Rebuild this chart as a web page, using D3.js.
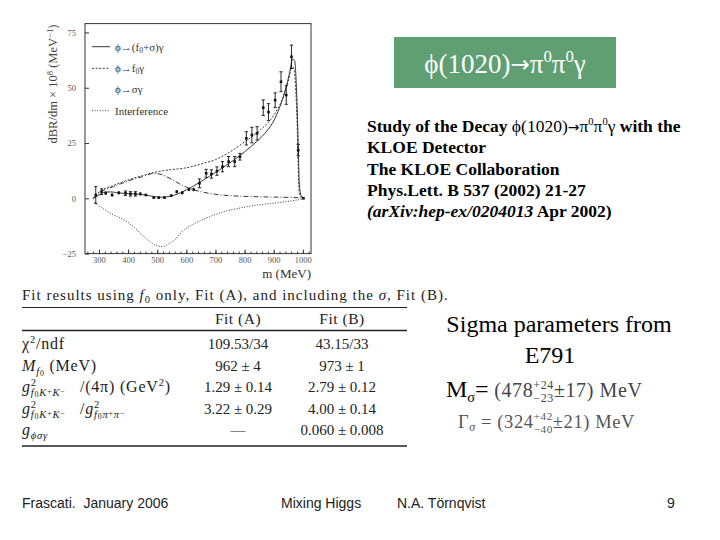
<!DOCTYPE html>
<html>
<head>
<meta charset="utf-8">
<script src="https://cdn.jsdelivr.net/npm/d3@7"></script>
<style>
body { margin: 0; background: #fff; }
svg text { white-space: pre; }
</style>
</head>
<body>
<script>
// data points (m in MeV, dBR/dm x 1e8)
var massPts = [289,309,323,345,368,391,408,425,442,461,488,505,525,548,567,586,609,625,645,668,686,705,724,745,766,784,806,825,843,864,882,905,925,943,961,984,1002];
var brPts = [1.5,3,2.3,1.5,2.5,2.3,2,2,2,1.5,0.3,0.3,0.3,1.2,3,2.5,4,4,6.8,11.3,11,12.3,14.3,16.6,16.6,18.8,27.1,28.6,29.4,41,39,44.4,52.7,46.7,64,21.8,0];
var errPts = [3.8,1.3,0.8,0.8,0.8,1,1,1,0.8,0.5,0.5,0.5,0.5,0.5,0.8,0.8,0.8,0.8,2,1.8,1.9,1.9,2.3,2.3,2.3,1.5,3,3.5,3,3.5,3.8,3.3,4.5,4.2,5.3,2.6,0.3];

// fit curves
var totalM = [280,300,320,340,360,380,400,420,440,460,480,500,520,540,560,580,600,620,640,660,680,700,720,740,760,780,800,820,840,860,880,900,920,940,955,965,972,978,983,988,995,1005];
var totalV = [0,1.5,2.8,2.9,2.6,2.3,2.1,2.0,1.8,1.5,1.0,0.6,0.5,0.8,1.5,2.5,3.8,5.2,6.8,8.4,10,11.7,13.4,15.2,17,19,21,23.2,25.5,28,31,35,41,49,57,63,62,50,30,6,1,0];
var f0M = [280,290,300,350,400,450,500,550,600,650,700,750,800,850,900,930,950,963,970,976,980,984,988,1000];
var f0V = [0,1.5,2.8,5.8,8.3,10.3,12,13,13.8,15.5,17.5,21,25.5,30.5,37.5,45,53,60,58,48,35,15,2,0];
var sigM = [280,300,350,400,450,490,520,550,580,610,650,700,750,850,950,1000];
var sigV = [0,2.3,5.3,7.8,9.8,11.3,10.5,8.5,6.3,4.5,3,1.8,1.2,0.7,0.4,0.2];
var intM = [285,300,320,350,390,420,450,480,500,520,540,560,590,620,650,680,730,780,845,900,960,1000];
var intV = [-2,-3.5,-5.2,-7.5,-10,-13,-16.8,-20,-21.5,-21.8,-20.5,-18.8,-14.5,-12,-10,-8.3,-6,-4.5,-3,-2.2,-1.2,-0.3];

var xTicks = [300,400,500,600,700,800,900,1000];
var yTicks = [-25,0,25,50,75];

// table
var fitA = ["109.53/34", "962 ± 4", "1.29 ± 0.14", "3.22 ± 0.29", "—"];
var fitB = ["43.15/33", "973 ± 1", "2.79 ± 0.12", "4.00 ± 0.14", "0.060 ± 0.008"];

var W = 720, H = 540;
var svg = d3.select("body").append("svg").attr("width", W).attr("height", H);

// draws a run of text pieces one after another, returns end x
function rich(g, x, y, parts, base) {
    var cx = x;
    parts.forEach(function (p) {
        if (p.stack) {
            var w = 0;
            p.stack.forEach(function (sp) {
                var ex = rich(g, cx, y, sp, base);
                w = Math.max(w, ex - cx);
            });
            cx += w;
            return;
        }
        var t = g.append("text")
            .attr("x", cx).attr("y", y + (p.dy || 0))
            .attr("font-family", p.f || base.family)
            .attr("font-size", base.size * (p.s || 1))
            .attr("font-style", p.it ? "italic" : "normal")
            .attr("font-weight", p.w || base.weight || "normal")
            .attr("letter-spacing", base.ls || 0)
            .attr("fill", base.fill)
            .text(p.t);
        cx += t.node().getComputedTextLength();
    });
    return cx;
}

// ---------- plot ----------
var xScale = d3.scaleLinear().domain([252, 1028]).range([85, 311]);
var yScale = d3.scaleLinear().domain([-25, 79]).range([253.6, 23.6]);

var plot = svg.append("g");
plot.append("defs").append("clipPath").attr("id", "clip")
    .append("rect").attr("x", 85).attr("y", 23.6).attr("width", 226).attr("height", 230);

var xAxis = d3.axisBottom(xScale).tickValues(xTicks).tickSizeInner(-4).tickSizeOuter(0).tickPadding(3).tickFormat(d3.format("d"));
var xMinor = d3.axisBottom(xScale).tickValues(d3.range(260, 1021, 20)).tickSizeInner(-2).tickSizeOuter(0).tickFormat("");
var yAxis = d3.axisLeft(yScale).tickValues(yTicks).tickSizeInner(-4).tickSizeOuter(0).tickPadding(9);

plot.append("g").attr("transform", "translate(0,253.6)").call(xMinor);
plot.append("g").attr("transform", "translate(0,253.6)").call(xAxis);
plot.append("g").attr("transform", "translate(85,0)").call(yAxis);
plot.selectAll(".domain").remove();
plot.selectAll(".tick line").attr("stroke", "#333");
plot.selectAll(".tick text").attr("font-family", "Liberation Serif").attr("font-size", 8.5).attr("fill", "#555");

plot.append("rect").attr("x", 85).attr("y", 23.6).attr("width", 226).attr("height", 230)
    .attr("fill", "none").attr("stroke", "#333").attr("stroke-width", 1);

var line = d3.line().x(function (d) { return xScale(d[0]); }).y(function (d) { return yScale(d[1]); })
    .curve(d3.curveMonotoneX);

var curves = [
    { m: totalM, v: totalV, dash: null },
    { m: f0M, v: f0V, dash: "2,1.6" },
    { m: sigM, v: sigV, dash: "5,2,1,2" },
    { m: intM, v: intV, dash: "1,1.6" }
];
var cg = plot.append("g").attr("clip-path", "url(#clip)");
curves.forEach(function (c) {
    cg.append("path")
        .datum(c.m.map(function (m, i) { return [m, c.v[i]]; }))
        .attr("d", line)
        .attr("fill", "none")
        .attr("stroke", "#222")
        .attr("stroke-width", 0.9)
        .attr("stroke-dasharray", c.dash);
});

var pts = massPts.map(function (m, i) { return { m: m, v: brPts[i], e: errPts[i] }; });
var pg = cg.selectAll(".pt").data(pts).enter().append("g").attr("class", "pt");
pg.append("line")
    .attr("x1", function (d) { return xScale(d.m); }).attr("x2", function (d) { return xScale(d.m); })
    .attr("y1", function (d) { return yScale(d.v - d.e); }).attr("y2", function (d) { return yScale(d.v + d.e); })
    .attr("stroke", "#111").attr("stroke-width", 0.9);
[-1, 1].forEach(function (s) {
    pg.filter(function (d) { return d.e > 0.9; }).append("line")
        .attr("x1", function (d) { return xScale(d.m) - 1.6; }).attr("x2", function (d) { return xScale(d.m) + 1.6; })
        .attr("y1", function (d) { return yScale(d.v + s * d.e); }).attr("y2", function (d) { return yScale(d.v + s * d.e); })
        .attr("stroke", "#111").attr("stroke-width", 0.9);
});
pg.append("rect")
    .attr("x", function (d) { return xScale(d.m) - 1.3; }).attr("y", function (d) { return yScale(d.v) - 1.3; })
    .attr("width", 2.6).attr("height", 2.6).attr("fill", "#111");

// legend
var legBase = { family: "Liberation Serif", size: 11, fill: "#333" };
var legendParts = [
    [{ t: "ϕ→(f" }, { t: "0", s: 0.7, dy: 2 }, { t: "+σ)γ" }],
    [{ t: "ϕ→f" }, { t: "0", s: 0.7, dy: 2 }, { t: "γ" }],
    [{ t: "ϕ→σγ" }],
    [{ t: "Interference" }]
];
var legendDash = [null, "2,1.6", "none", "1,1.6"];
var legendY = [46.7, 68.3, 89.3, 110.7];
legendParts.forEach(function (p, i) {
    if (legendDash[i] !== "none") {
        plot.append("line").attr("x1", 92).attr("x2", 110).attr("y1", legendY[i]).attr("y2", legendY[i])
            .attr("stroke", "#222").attr("stroke-width", 0.9).attr("stroke-dasharray", legendDash[i]);
    }
    rich(plot, 115, legendY[i] + 3.8, p, legBase);
});

// axis titles
var yl = plot.append("g");
var ylw = rich(yl, 0, 0, [{ t: "dBR/dm × 10" }, { t: "8", s: 0.7, dy: -4.5 }, { t: " (MeV" }, { t: "−1", s: 0.7, dy: -4.5 }, { t: ")" }],
    { family: "Liberation Serif", size: 12.5, fill: "#444" });
yl.attr("transform", "translate(57," + (84 + ylw / 2) + ") rotate(-90)");

plot.append("text").attr("x", 311).attr("y", 278).attr("text-anchor", "end")
    .attr("font-family", "Liberation Serif").attr("font-size", 13).attr("fill", "#333").text("m (MeV)");

// ---------- title box ----------
svg.append("rect").attr("x", 394).attr("y", 37).attr("width", 222).attr("height", 51).attr("fill", "#609f72");
var tg = svg.append("g");
var tw = rich(tg, 0, 73, [{ t: "ϕ(1020)" }, { t: "→", f: "DejaVu Sans", s: 0.85, dy: -1 }, { t: "π" }, { t: "0", s: 0.62, dy: -11 }, { t: "π" }, { t: "0", s: 0.62, dy: -11 }, { t: "γ" }],
    { family: "Liberation Serif", size: 27, fill: "#fff" });
tg.attr("transform", "translate(" + (505 - tw / 2) + ",0)");

// ---------- citation ----------
var citeBase = { family: "Liberation Serif", size: 17.5, fill: "#000", weight: "bold" };
var citeY = [131.7, 153.3, 174.5, 195.7, 216.7];
rich(svg, 367, citeY[0], [{ t: "Study of the Decay " }, { t: "ϕ(1020)", w: "normal" }, { t: "→", w: "normal", f: "DejaVu Sans", s: 0.8 },
    { t: "π", w: "normal" }, { t: "0", s: 0.6, dy: -7, w: "normal" },
    { t: "π", w: "normal" }, { t: "0", s: 0.6, dy: -7, w: "normal" }, { t: "γ", w: "normal" }, { t: " with the" }], citeBase);
rich(svg, 367, citeY[1], [{ t: "KLOE Detector" }], citeBase);
rich(svg, 367, citeY[2], [{ t: "The KLOE Collaboration" }], citeBase);
rich(svg, 367, citeY[3], [{ t: "Phys.Lett. B 537 (2002) 21-27" }], citeBase);
rich(svg, 367, citeY[4], [{ t: "(arXiv:hep-ex/0204013", it: true }, { t: " Apr 2002)" }], citeBase);

// ---------- table ----------
var tb = { family: "Liberation Serif", size: 15, fill: "#222", ls: 1 };
var tl = { family: "Liberation Serif", size: 16, fill: "#222", ls: 0.8 };
rich(svg, 22, 300, [{ t: "Fit results using " }, { t: "f", it: true }, { t: "0", s: 0.7, dy: 3 }, { t: " only, Fit (A), and including the " },
    { t: "σ", it: true }, { t: ", Fit (B)." }], tb);
var hl = [{ y: 307.5, w: 1 }, { y: 330.5, w: 1.6 }, { y: 446, w: 1.6 }];
hl.forEach(function (h) {
    svg.append("line").attr("x1", 22).attr("x2", 407).attr("y1", h.y).attr("y2", h.y)
        .attr("stroke", "#222").attr("stroke-width", h.w);
});
var colA = 238, colB = 342;
[["Fit (A)", colA], ["Fit (B)", colB]].forEach(function (c) {
    svg.append("text").attr("x", c[1]).attr("y", 324).attr("text-anchor", "middle")
        .attr("font-family", tb.family).attr("font-size", 15.5).attr("letter-spacing", 0.5).attr("fill", tb.fill).text(c[0]);
});

var rowY = [349, 370.5, 392, 413.5, 435];
var kk = [{ t: "f", it: true }, { t: "0", s: 0.75, dy: 1 }, { t: "K", it: true }, { t: "+", s: 0.75, dy: -2 }, { t: "K", it: true }, { t: "−", s: 0.75, dy: -2 }];
function sub(parts) { return parts.map(function (p) { return { t: p.t, it: p.it, s: (p.s || 1) * 0.66, dy: 4 + (p.dy || 0) }; }); }
var pp = [{ t: "f", it: true }, { t: "0", s: 0.75, dy: 1 }, { t: "π", it: true }, { t: "+", s: 0.75, dy: -2 }, { t: "π", it: true }, { t: "−", s: 0.75, dy: -2 }];
var rowParts = [
    [{ t: "χ" }, { t: "2", s: 0.66, dy: -6 }, { t: "/ndf" }],
    [{ t: "M", it: true }].concat(sub([{ t: "f", it: true }, { t: "0", s: 0.75, dy: 1 }])).concat([{ t: " (MeV)" }]),
    [{ t: "g", it: true }, { stack: [[{ t: "2", s: 0.66, dy: -6 }], sub(kk)] }, { t: "   /(4π) (GeV" }, { t: "2", s: 0.66, dy: -6 }, { t: ")" }],
    [{ t: "g", it: true }, { stack: [[{ t: "2", s: 0.66, dy: -6 }], sub(kk)] }, { t: "   /" }, { t: "g", it: true }, { stack: [[{ t: "2", s: 0.66, dy: -6 }], sub(pp)] }],
    [{ t: "g", it: true }].concat(sub([{ t: "ϕσγ", it: true }]))
];
rowParts.forEach(function (p, i) {
    rich(svg, 22, rowY[i], p, tl);
    svg.append("text").attr("x", colA).attr("y", rowY[i]).attr("text-anchor", "middle")
        .attr("font-family", tb.family).attr("font-size", 15).attr("fill", tb.fill).text(fitA[i]);
    svg.append("text").attr("x", colB).attr("y", rowY[i]).attr("text-anchor", "middle")
        .attr("font-family", tb.family).attr("font-size", 15).attr("fill", tb.fill).text(fitB[i]);
});

// ---------- sigma parameters ----------
svg.append("text").attr("x", 559).attr("y", 331.5).attr("text-anchor", "middle")
    .attr("font-family", "Liberation Serif").attr("font-size", 24).text("Sigma parameters from");
svg.append("text").attr("x", 550).attr("y", 362.5).attr("text-anchor", "middle")
    .attr("font-family", "Liberation Serif").attr("font-size", 24).text("E791");
var mx = rich(svg, 446, 397, [{ t: "M" }, { t: "σ", s: 0.6, dy: 5 }, { t: "=" }], { family: "Liberation Serif", size: 24, fill: "#000" });
rich(svg, mx, 397, [{ t: " (478" }, { stack: [[{ t: "+24", s: 0.6, dy: -8 }], [{ t: "−23", s: 0.6, dy: 5 }]] }, { t: "±17) MeV" }],
    { family: "Liberation Serif", size: 20, fill: "#444", ls: 0.6 });
rich(svg, 458, 428, [{ t: "Γ" }, { t: "σ", it: true, s: 0.65, dy: 3 }, { t: " = (324" },
    { stack: [[{ t: "+42", s: 0.6, dy: -8 }], [{ t: "−40", s: 0.6, dy: 5 }]] }, { t: "±21) MeV" }],
    { family: "Liberation Serif", size: 18.5, fill: "#555", ls: 0.6 });

// ---------- footer ----------
var foot = [{ t: "Frascati.  January 2006", x: 22 }, { t: "Mixing Higgs", x: 281 }, { t: "N.A. Törnqvist", x: 397 }, { t: "9", x: 667 }];
foot.forEach(function (f) {
    svg.append("text").attr("x", f.x).attr("y", 508).attr("font-family", "Liberation Sans").attr("font-size", 14)
        .attr("fill", "#222").text(f.t);
});
</script>
</body>
</html>
